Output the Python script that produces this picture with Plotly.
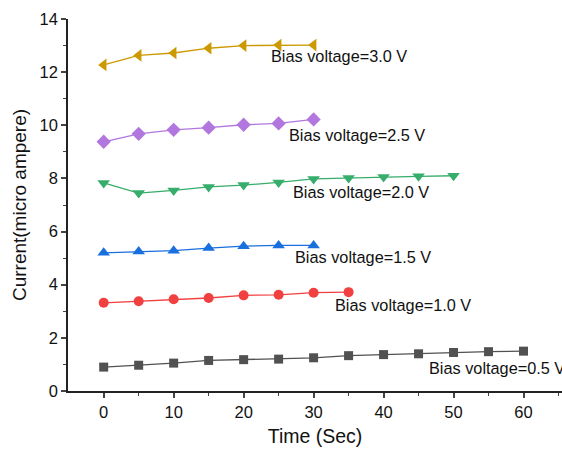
import plotly.graph_objects as go

time_05 = [0, 5, 10, 15, 20, 25, 30, 35, 40, 45, 50, 55, 60]
cur_05 = [0.9, 0.97, 1.05, 1.15, 1.18, 1.2, 1.25, 1.33, 1.37, 1.4, 1.45, 1.48, 1.5]
time_10 = [0, 5, 10, 15, 20, 25, 30, 35]
cur_10 = [3.32, 3.38, 3.45, 3.5, 3.6, 3.62, 3.7, 3.72]
time_15 = [0, 5, 10, 15, 20, 25, 30]
cur_15 = [5.2, 5.25, 5.28, 5.38, 5.45, 5.48, 5.48]
time_20 = [0, 5, 10, 15, 20, 25, 30, 35, 40, 45, 50]
cur_20 = [7.83, 7.45, 7.55, 7.68, 7.75, 7.85, 7.98, 8.02, 8.05, 8.08, 8.1]
time_25 = [0, 5, 10, 15, 20, 25, 30]
cur_25 = [9.38, 9.68, 9.83, 9.91, 10.02, 10.07, 10.22]
time_30 = [0, 5, 10, 15, 20, 25, 30]
cur_30 = [12.27, 12.63, 12.72, 12.9, 13.0, 13.02, 13.02]

labels = ["Bias voltage=0.5 V", "Bias voltage=1.0 V", "Bias voltage=1.5 V",
          "Bias voltage=2.0 V", "Bias voltage=2.5 V", "Bias voltage=3.0 V"]
label_x = [46.2, 32.8, 27.0, 26.8, 26.2, 23.6]
label_y = [0.85, 3.24, 5.05, 7.5, 9.64, 12.6]

FONT = "Liberation Sans, Arial, sans-serif"

series = [
    (time_05, cur_05, "#515151", "square", 9),
    (time_10, cur_10, "#F14040", "circle", 10),
    (time_15, cur_15, "#1A6FDF", "triangle-up", 11),
    (time_20, cur_20, "#37AD6B", "triangle-down", 11),
    (time_25, cur_25, "#B177DE", "diamond", 11),
    (time_30, cur_30, "#CC9900", "triangle-left", 11),
]

fig = go.Figure()
for (t, c, col, sym, sz), lab in zip(series, labels):
    fig.add_trace(go.Scatter(x=t, y=c, mode="lines+markers", name=lab,
                             line=dict(color=col, width=1.3),
                             marker=dict(color=col, symbol=sym, size=sz)))

for lab, lx, ly in zip(labels, label_x, label_y):
    fig.add_annotation(x=lx, y=ly, text=lab, showarrow=False, xanchor="left",
                       yanchor="middle", font=dict(family=FONT, size=16.3, color="#111"))

fig.update_layout(
    width=562, height=449,
    margin=dict(l=68, r=0, t=19, b=58),
    paper_bgcolor="white", plot_bgcolor="white",
    showlegend=False,
    font=dict(family=FONT, color="#111"),
    xaxis=dict(range=[-5.1, 65.5], tickvals=[0, 10, 20, 30, 40, 50, 60],
               ticks="outside", ticklen=5, tickwidth=1.5, showline=True, linecolor="#222",
               linewidth=1.6, showgrid=False, zeroline=False,
               tickfont=dict(size=16.5, family=FONT),
               minor=dict(tickvals=[5, 15, 25, 35, 45, 55, 65], ticks="outside", ticklen=3, tickwidth=1.2),
               title=dict(text="Time (Sec)", font=dict(size=19.5, family=FONT), standoff=10)),
    yaxis=dict(range=[0, 14], tickvals=[0, 2, 4, 6, 8, 10, 12, 14],
               ticks="outside", ticklen=5, tickwidth=1.5, showline=True, linecolor="#222",
               linewidth=1.6, showgrid=False, zeroline=False,
               tickfont=dict(size=16.5, family=FONT),
               minor=dict(tickvals=[1, 3, 5, 7, 9, 11, 13], ticks="outside", ticklen=3, tickwidth=1.2),
               title=dict(text="Current(micro ampere)", font=dict(size=19, family=FONT), standoff=8)),
)

fig.write_html("out.html")
